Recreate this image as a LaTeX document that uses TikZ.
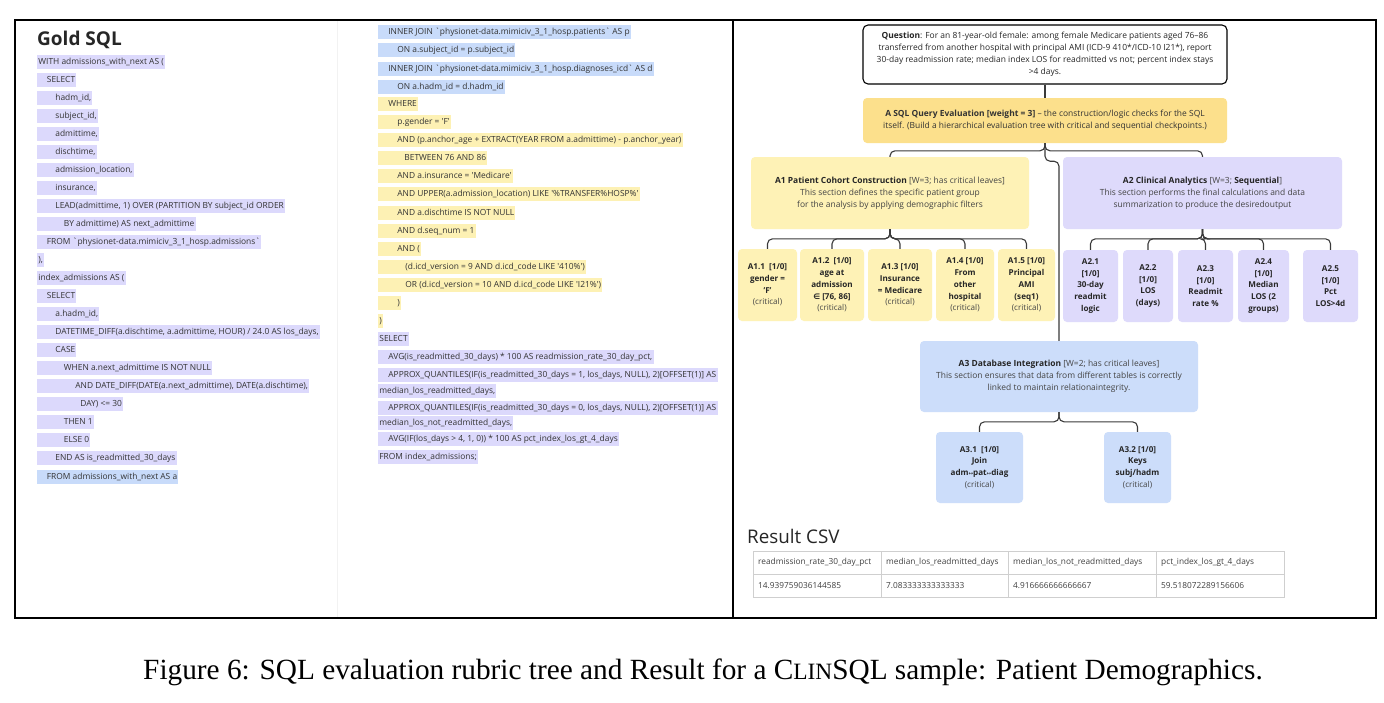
\documentclass[tikz,border=0pt]{standalone}
\usepackage{fontspec}
\setmainfont{Open Sans}
\newfontfamily\sqlf{Open Sans}
\newfontfamily\symf{DejaVu Sans}
\newfontfamily\capf{Liberation Serif}
\usetikzlibrary{calc}

\definecolor{hlav}{HTML}{DCD9FC}
\definecolor{hblu}{HTML}{C8DBFA}
\definecolor{hyel}{HTML}{FDF1B4}
\definecolor{cA}{HTML}{FCE08C}
\definecolor{cAa}{HTML}{FEF2B6}
\definecolor{cAb}{HTML}{DEDAFB}
\definecolor{cAc}{HTML}{CCDDFA}
\definecolor{sqltxt}{HTML}{333333}
\definecolor{tgray}{HTML}{444444}
\definecolor{conncol}{HTML}{3A3A3A}
\definecolor{tblline}{HTML}{CFCFCF}

\newcounter{sqlc}
\newcommand{\sqlrow}[5]{\stepcounter{sqlc}\node[sqlhl, fill=#4] (sql\arabic{sqlc}) at (#1,#2) {\hspace*{#3pt}#5};}
\newcommand{\bt}{\symbol{96}}

\tikzset{
  sqlhl/.style={anchor=west, inner xsep=1.2pt, inner ysep=0pt, minimum height=14pt,
    text height=6.3pt, text depth=1.9pt, font=\sqlf\fontsize{8.4}{10}\selectfont, text=sqltxt},
  tbox/.style={rounded corners=4pt, align=center, inner sep=0pt,
    font=\fontsize{8.45}{12}\selectfont, text=tgray},
  leaf/.style={tbox, font=\bfseries\fontsize{8.1}{11.7}\selectfont, text=black!85},
  link/.style={draw=conncol, line width=1.1pt, rounded corners=5pt},
  cell/.style={anchor=west, inner sep=0pt, font=\fontsize{8.3}{10}\selectfont, text=black!75},
}

\begin{document}
\begin{tikzpicture}[x=1pt,y=-1pt]
\useasboundingbox (0,0) rectangle (1384,702);
\fill[white] (0,0) rectangle (1384,702);

% faint column separator
\draw[gray!10, line width=0.8pt] (337,21) -- (337,617);

% title
\node[anchor=base west, inner sep=0pt, font=\bfseries\fontsize{19}{21}\selectfont, text=black!85] (gold) at (37,45) {Gold SQL};

% left SQL column
\sqlrow{37}{62}{0}{hlav}{WITH admissions\_with\_next AS (}
\sqlrow{37}{80}{8.5}{hlav}{SELECT}
\sqlrow{37}{98}{17}{hlav}{hadm\_id,}
\sqlrow{37}{116}{17}{hlav}{subject\_id,}
\sqlrow{37}{134}{17}{hlav}{admittime,}
\sqlrow{37}{152}{17}{hlav}{dischtime,}
\sqlrow{37}{170}{17}{hlav}{admission\_location,}
\sqlrow{37}{188}{17}{hlav}{insurance,}
\sqlrow{37}{206}{17}{hlav}{LEAD(admittime, 1) OVER (PARTITION BY subject\_id ORDER}
\sqlrow{37}{224}{25.5}{hlav}{BY admittime) AS next\_admittime}
\sqlrow{37}{242}{8.5}{hlav}{FROM \bt physionet-data.mimiciv\_3\_1\_hosp.admissions\bt}
\sqlrow{37}{260}{0}{hlav}{),}
\sqlrow{37}{278}{0}{hlav}{index\_admissions AS (}
\sqlrow{37}{296}{8.5}{hlav}{SELECT}
\sqlrow{37}{314}{17}{hlav}{a.hadm\_id,}
\sqlrow{37}{332}{17}{hlav}{DATETIME\_DIFF(a.dischtime, a.admittime, HOUR) / 24.0 AS los\_days,}
\sqlrow{37}{350}{17}{hlav}{CASE}
\sqlrow{37}{368}{25.5}{hlav}{WHEN a.next\_admittime IS NOT NULL}
\sqlrow{37}{386}{37}{hlav}{AND DATE\_DIFF(DATE(a.next\_admittime), DATE(a.dischtime),}
\sqlrow{37}{404}{42}{hlav}{DAY) <= 30}
\sqlrow{37}{422}{25.5}{hlav}{THEN 1}
\sqlrow{37}{440}{25.5}{hlav}{ELSE 0}
\sqlrow{37}{458}{17}{hlav}{END AS is\_readmitted\_30\_days}
\sqlrow{37}{477}{8.5}{hblu}{FROM admissions\_with\_next AS a}

% right SQL column
\sqlrow{378}{32}{9}{hblu}{INNER JOIN \bt physionet-data.mimiciv\_3\_1\_hosp.patients\bt{} AS p}
\sqlrow{378}{50}{18}{hblu}{ON a.subject\_id = p.subject\_id}
\sqlrow{378}{69}{9}{hblu}{INNER JOIN \bt physionet-data.mimiciv\_3\_1\_hosp.diagnoses\_icd\bt{} AS d}
\sqlrow{378}{87}{18}{hblu}{ON a.hadm\_id = d.hadm\_id}
\sqlrow{378}{104}{9}{hyel}{WHERE}
\sqlrow{378}{122}{18}{hyel}{p.gender = 'F'}
\sqlrow{378}{140}{18}{hyel}{AND (p.anchor\_age + EXTRACT(YEAR FROM a.admittime) - p.anchor\_year)}
\sqlrow{378}{158}{25}{hyel}{BETWEEN 76 AND 86}
\sqlrow{378}{176}{18}{hyel}{AND a.insurance = 'Medicare'}
\sqlrow{378}{194}{18}{hyel}{AND UPPER(a.admission\_location) LIKE '\%TRANSFER\%HOSP\%'}
\sqlrow{378}{213}{18}{hyel}{AND a.dischtime IS NOT NULL}
\sqlrow{378}{231}{18}{hyel}{AND d.seq\_num = 1}
\sqlrow{378}{249}{18}{hyel}{AND (}
\sqlrow{378}{267}{26}{hyel}{(d.icd\_version = 9 AND d.icd\_code LIKE '410\%')}
\sqlrow{378}{285}{26}{hyel}{OR (d.icd\_version = 10 AND d.icd\_code LIKE 'I21\%')}
\sqlrow{378}{303}{18}{hyel}{)}
\sqlrow{378}{321}{0}{hyel}{)}
\sqlrow{378}{339}{0}{hlav}{SELECT}
\sqlrow{378}{357}{9}{hlav}{AVG(is\_readmitted\_30\_days) * 100 AS readmission\_rate\_30\_day\_pct,}
\sqlrow{378}{375}{9}{hlav}{APPROX\_QUANTILES(IF(is\_readmitted\_30\_days = 1, los\_days, NULL), 2)[OFFSET(1)] AS}
\sqlrow{378}{391}{0}{hlav}{median\_los\_readmitted\_days,}
\sqlrow{378}{408}{9}{hlav}{APPROX\_QUANTILES(IF(is\_readmitted\_30\_days = 0, los\_days, NULL), 2)[OFFSET(1)] AS}
\sqlrow{378}{423}{0}{hlav}{median\_los\_not\_readmitted\_days,}
\sqlrow{378}{439}{9}{hlav}{AVG(IF(los\_days > 4, 1, 0)) * 100 AS pct\_index\_los\_gt\_4\_days}
\sqlrow{378}{457}{0}{hlav}{FROM index\_admissions;}

% ---------------- tree ----------------
\node[tbox, draw=black, line width=1.1pt, rounded corners=5pt, fill=white, text=black!85,
  minimum width=364pt, minimum height=59pt] (Q) at (1045,54.5)
  {\textbf{Question}: For an 81-year-old female: among female Medicare patients aged 76–86\\
   transferred from another hospital with principal AMI (ICD-9 410*/ICD-10 I21*), report\\
   30-day readmission rate; median index LOS for readmitted vs not; percent index stays\\
   >4 days.};

\node[tbox, fill=cA, text=black!80, minimum width=364pt, minimum height=45pt] (A) at (1045,120.5)
  {\textbf{A SQL Query Evaluation [weight = 3]} – the construction/logic checks for the SQL\\
   itself. (Build a hierarchical evaluation tree with critical and sequential checkpoints.)};

\node[tbox, fill=cAa, minimum width=278pt, minimum height=72pt] (A1) at (890,193)
  {\textbf{\color{black!85}A1 Patient Cohort Construction} [W=3; has critical leaves]\\
   This section defines the specific patient group\\
   for the analysis by applying demographic filters};

\node[tbox, fill=cAb, minimum width=279pt, minimum height=72pt] (A2) at (1202.5,193)
  {\textbf{\color{black!85}A2 Clinical Analytics} [W=3; \textbf{\color{black!85}Sequential}]\\
   This section performs the final calculations and data\\
   summarization to produce the desiredoutput};

\node[tbox, fill=cAc, minimum width=278pt, minimum height=71pt] (A3) at (1059,376.5)
  {\textbf{\color{black!85}A3 Database Integration} [W=2; has critical leaves]\\
   This section ensures that data from different tables is correctly\\
   linked to maintain relationaintegrity.};

% A1 leaves
\node[leaf, fill=cAa, minimum width=59pt, minimum height=72pt] (A11) at (767.5,285)
  {A1.1\ \ [1/0]\\ gender =\\ 'F'\\ {\mdseries\color{tgray}(critical)}};
\node[leaf, fill=cAa, minimum width=64pt, minimum height=72pt] (A12) at (832,285)
  {A1.2\ \ [1/0]\\ age at\\ admission\\ {\symf\fontsize{7.6}{8}\selectfont ∈} [76, 86]\\ {\mdseries\color{tgray}(critical)}};
\node[leaf, fill=cAa, minimum width=64pt, minimum height=72pt] (A13) at (900,285)
  {A1.3 [1/0]\\ Insurance\\ = Medicare\\ {\mdseries\color{tgray}(critical)}};
\node[leaf, fill=cAa, minimum width=58pt, minimum height=72pt] (A14) at (965,285)
  {A1.4 [1/0]\\ From\\ other\\ hospital\\ {\mdseries\color{tgray}(critical)}};
\node[leaf, fill=cAa, minimum width=57pt, minimum height=72pt] (A15) at (1026.5,285)
  {A1.5 [1/0]\\ Principal\\ AMI\\ (seq1)\\ {\mdseries\color{tgray}(critical)}};

% A2 leaves
\node[leaf, fill=cAb, minimum width=55pt, minimum height=72pt] (A21) at (1090.5,286)
  {A2.1\\ {[1/0]}\\ 30-day\\ readmit\\ logic};
\node[leaf, fill=cAb, minimum width=50pt, minimum height=72pt] (A22) at (1148,286)
  {A2.2\\ {[1/0]}\\ LOS\\ (days)};
\node[leaf, fill=cAb, minimum width=55pt, minimum height=72pt] (A23) at (1205.5,286)
  {A2.3\\ {[1/0]}\\ Readmit\\ rate \%};
\node[leaf, fill=cAb, minimum width=51pt, minimum height=72pt] (A24) at (1263.5,286)
  {A2.4\\ {[1/0]}\\ Median\\ LOS (2\\ groups)};
\node[leaf, fill=cAb, minimum width=55pt, minimum height=72pt] (A25) at (1330.5,286)
  {A2.5\\ {[1/0]}\\ Pct\\ LOS>4d};

% A3 leaves
\node[leaf, fill=cAc, minimum width=87pt, minimum height=71pt] (A31) at (979.5,467.5)
  {A3.1\ \ [1/0]\\ Join\\ adm{\symf\mdseries\fontsize{5.5}{6}\selectfont ↔}pat{\symf\mdseries\fontsize{5.5}{6}\selectfont ↔}diag\\ {\mdseries\color{tgray}(critical)}};
\node[leaf, fill=cAc, minimum width=67pt, minimum height=71pt] (A32) at (1137.5,467.5)
  {A3.2 [1/0]\\ Keys\\ subj/hadm\\ {\mdseries\color{tgray}(critical)}};

% connectors
\draw[link] (Q.south) -- (A.north);
\draw[link] (A.south) |- ($(A1.north)+(0,-6)$) -- (A1.north);
\draw[link] (A.south) |- ($(A2.north)+(0,-6)$) -- (A2.north);
\draw[link] (A.south) -- ++(0,18) -| (A3.north);
\foreach \c in {A11,A12,A13,A14,A15}
  \draw[link] (A1.south) |- ($(\c.north)+(0,-10)$) -- (\c.north);
\foreach \c in {A21,A22,A23,A24,A25}
  \draw[link] (A2.south) |- ($(\c.north)+(0,-11)$) -- (\c.north);
\foreach \c in {A31,A32}
  \draw[link] (A3.south) |- ($(\c.north)+(0,-10)$) -- (\c.north);

% Result CSV
\node[anchor=base west, inner sep=0pt, font=\fontsize{18.8}{20}\selectfont, text=black!85] (res) at (747,543) {Result CSV};
\draw[tblline, line width=0.8pt] (753,551) rectangle (1284,597);
\draw[tblline, line width=0.8pt] (753,574) -- (1284,574);
\foreach \xx in {881,1008,1156} \draw[tblline, line width=0.8pt] (\xx,551) -- (\xx,597);
\node[cell] (h1) at (758,562.5) {readmission\_rate\_30\_day\_pct};
\node[cell] (h2) at (886,562.5) {median\_los\_readmitted\_days};
\node[cell] (h3) at (1013,562.5) {median\_los\_not\_readmitted\_days};
\node[cell] (h4) at (1161,562.5) {pct\_index\_los\_gt\_4\_days};
\node[cell] (d1) at (758,585.5) {14.939759036144585};
\node[cell] (d2) at (886,585.5) {7.083333333333333};
\node[cell] (d3) at (1013,585.5) {4.916666666666667};
\node[cell] (d4) at (1161,585.5) {59.518072289156606};

% frame
\draw[black, line width=1.5pt] (15,20) rectangle (1376,618);
\draw[black, line width=1.5pt] (733,20) -- (733,618);

% caption
\node[anchor=base, inner sep=0pt, font=\capf\fontsize{29.3}{34}\selectfont] (cap) at (703,679)
  {Figure 6: SQL evaluation rubric tree and Result for a C{\fontsize{23.4}{28}\selectfont LIN}SQL sample: Patient Demographics.};
\end{tikzpicture}
\end{document}
